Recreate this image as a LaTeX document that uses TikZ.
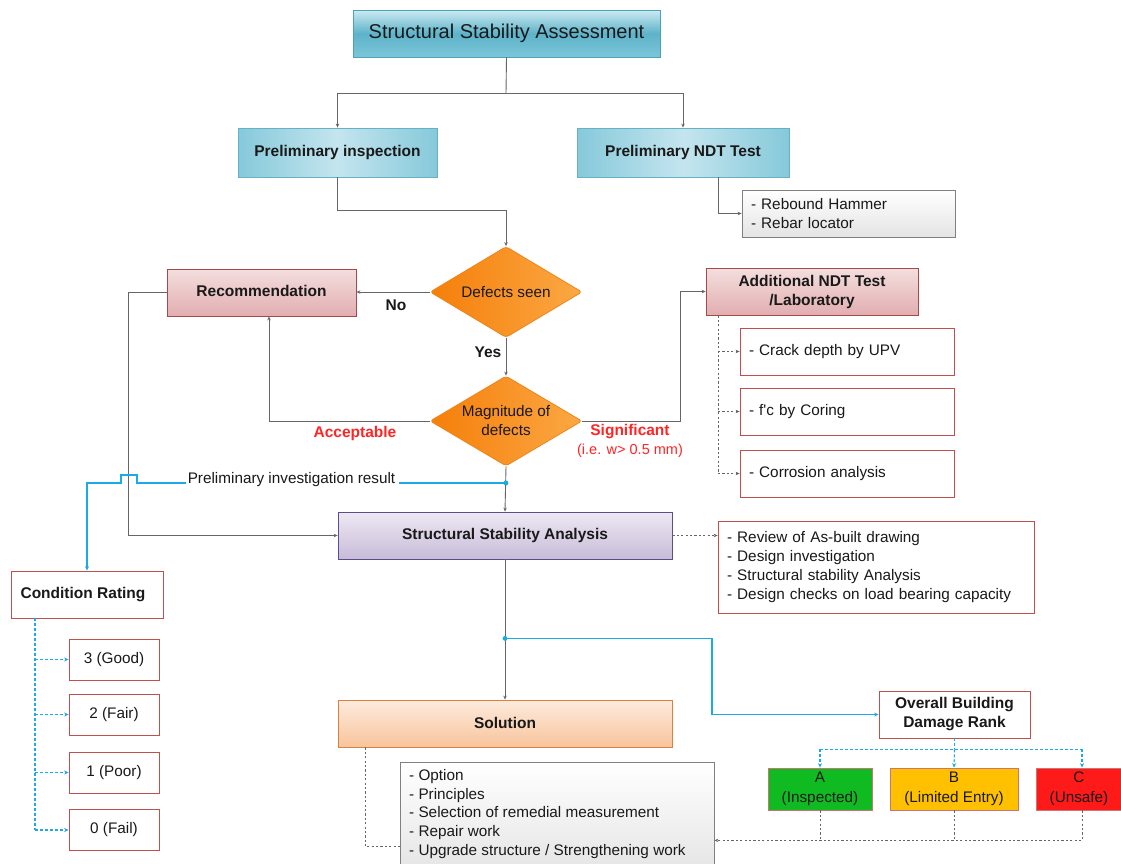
\documentclass[tikz,border=0pt]{standalone}
\usepackage{fontspec}
\setmainfont{Liberation Sans}
\newfontfamily\plainsans{Liberation Sans}
\usetikzlibrary{shapes.geometric,arrows.meta,calc}
\definecolor{lnGray}{HTML}{666666}
\definecolor{lnBlue}{HTML}{1AAAE6}
\definecolor{txRed}{HTML}{FF2525}
\definecolor{tealTop}{HTML}{CDEAF2}
\definecolor{tealMid}{HTML}{5DB3CA}
\definecolor{tealBot}{HTML}{7CC6D8}
\definecolor{tealBorder}{HTML}{4AA3BB}
\definecolor{pbEdge}{HTML}{86C9DA}
\definecolor{pbMid}{HTML}{C4E5EF}
\definecolor{pinkTop}{HTML}{F4DEDE}
\definecolor{pinkBot}{HTML}{E2AEB0}
\definecolor{pinkBorder}{HTML}{A34A4D}
\definecolor{lavTop}{HTML}{EEE8F3}
\definecolor{lavBot}{HTML}{C8BCD9}
\definecolor{lavBorder}{HTML}{5F4B8B}
\definecolor{peachTop}{HTML}{FDEBDD}
\definecolor{peachBot}{HTML}{F8C49C}
\definecolor{peachBorder}{HTML}{D7823F}
\definecolor{grayBot}{HTML}{E4E4E4}
\definecolor{grayBorder}{HTML}{808080}
\definecolor{redBorder}{HTML}{C0504D}
\definecolor{orgL}{HTML}{F57F0A}
\definecolor{orgR}{HTML}{FBA844}
\definecolor{orgBorder}{HTML}{EE8518}
\definecolor{rankA}{HTML}{10BB22}
\definecolor{rankB}{HTML}{FFC000}
\definecolor{rankC}{HTML}{FF1A1A}
\tikzset{
  base/.style={inner sep=0pt, align=center, text=black!90,
    font=\fontsize{15.3}{19}\selectfont},
  bx/.style={base, draw, line width=0.8pt},
  titlebox/.style={bx, draw=tealBorder, top color=tealTop, bottom color=tealBot, middle color=tealMid,
    font=\fontsize{20}{23}\selectfont},
  pbox/.style={bx, draw=tealBorder!85, left color=pbEdge, right color=pbEdge, middle color=pbMid,
    font=\fontsize{15.5}{19}\selectfont\bfseries},
  pinkbox/.style={bx, draw=pinkBorder, top color=pinkTop, bottom color=pinkBot,
    font=\fontsize{15.5}{19}\selectfont\bfseries},
  lavbox/.style={bx, draw=lavBorder, top color=lavTop, bottom color=lavBot,
    font=\fontsize{15.5}{19}\selectfont\bfseries},
  peachbox/.style={bx, draw=peachBorder, top color=peachTop, bottom color=peachBot,
    font=\fontsize{15.5}{19}\selectfont\bfseries},
  graybox/.style={bx, draw=grayBorder, top color=white, bottom color=grayBot},
  redbox/.style={bx, draw=redBorder, fill=white},
  rankbox/.style={bx, draw=redBorder!80, font=\fontsize{15.3}{20}\selectfont},
  dia/.style={diamond, draw=orgBorder, line width=0.8pt, left color=orgL, right color=orgR,
    inner sep=0pt, rounded corners=3pt},
  lbl/.style={base, font=\fontsize{15.5}{19}\selectfont\bfseries},
  redlbl/.style={base, text=txRed, font=\fontsize{15.5}{19}\selectfont\bfseries},
  ln/.style={draw=lnGray, line width=0.9pt},
  arr/.style={ln, -{Stealth[length=4pt,width=3.5pt]}},
  gdash/.style={draw=lnGray, line width=0.9pt, dash pattern=on 2.2pt off 2.2pt},
  gdarr/.style={gdash, -{Stealth[length=4pt,width=3.5pt]}},
  bln/.style={draw=lnBlue, line width=1.2pt},
  barr/.style={bln, -{Stealth[length=4.5pt,width=4pt]}},
  bdline/.style={draw=lnBlue, line width=1.1pt, dash pattern=on 3pt off 2pt},
  bdash/.style={bdline, -{Stealth[length=4.5pt,width=4pt]}},
}
\begin{document}
\begin{tikzpicture}[x=1pt,y=-1pt]
\useasboundingbox[fill=white] (0,0) rectangle (1121,863);

% nodes
\node[titlebox, minimum width=307, minimum height=47] (title) at (506.5,33.5) {Structural Stability Assessment};
\node[pbox, minimum width=199, minimum height=49] (pi) at (337.5,152.5) {Preliminary inspection};
\node[pbox, minimum width=212, minimum height=49] (pndt) at (683,152.5) {Preliminary NDT Test};
\node[graybox, minimum height=47, text width=195, inner xsep=9, align=left] (reb) at (848.5,213.5) {- Rebound Hammer\\- Rebar locator};

\node[dia, minimum width=152, minimum height=91] (d1) at (506,292) {};
\node[base] (d1t) at (d1.center) {Defects seen};
\node[pinkbox, minimum width=189, minimum height=47] (rec) at (261.5,292.5) {\raisebox{4pt}{Recommendation}};
\node[dia, minimum width=152, minimum height=90] (d2) at (506,421) {};
\node[base] (d2t) at (d2.center) {Magnitude of\\defects};

\node[pinkbox, minimum width=212, minimum height=47] (adnd) at (812,291.5) {Additional NDT Test\\/Laboratory};
\node[redbox, minimum height=47, text width=196, inner xsep=9, align=left] (cr1) at (847,351.5) {- Crack depth by UPV};
\node[redbox, minimum height=47, text width=196, inner xsep=9, align=left] (cr2) at (847,411.5) {- {\plainsans f'c} by Coring};
\node[redbox, minimum height=47, text width=196, inner xsep=9, align=left] (cr3) at (847,473.5) {- Corrosion analysis};

\node[lavbox, minimum width=334, minimum height=47] (ssa) at (505,535.5) {\raisebox{2pt}{Structural Stability Analysis}};
\node[redbox, minimum height=92, text width=298, inner xsep=9, align=left, font=\fontsize{15.3}{18.7}\selectfont] (rev) at (876,567) {- Review of As-built drawing\\- Design investigation\\- Structural stability Analysis\\- Design checks on load bearing capacity};

\node[redbox, minimum width=152, minimum height=47, font=\fontsize{15.5}{19}\selectfont\bfseries] (cond) at (87,594.5) {\hspace*{-8pt}\raisebox{2pt}{Condition Rating}};
\node[redbox, minimum width=90, minimum height=41] (r3) at (114,659.5) {3 (Good)};
\node[redbox, minimum width=90, minimum height=41] (r2) at (114,714.5) {2 (Fair)};
\node[redbox, minimum width=90, minimum height=41] (r1) at (114,772.5) {1 (Poor)};
\node[redbox, minimum width=90, minimum height=41] (r0) at (114,830) {0 (Fail)};

\node[peachbox, minimum width=334, minimum height=47] (sol) at (505,723.5) {\raisebox{2pt}{Solution}};
\node[graybox, minimum width=314, minimum height=113] (opt) at (557,818.5) {};
\node[base, anchor=west, align=left, font=\fontsize{15.3}{18.75}\selectfont] (optt) at (409,814) {- Option\\- Principles\\- Selection of remedial measurement\\- Repair work\\- Upgrade structure / Strengthening work};

\node[redbox, minimum width=151, minimum height=47, font=\fontsize{15.5}{19}\selectfont\bfseries] (obdr) at (954.5,714.5) {Overall Building\\Damage Rank};
\node[rankbox, fill=rankA, minimum width=104, minimum height=42] (ra) at (820,789) {A\\(Inspected)};
\node[rankbox, fill=rankB, minimum width=128, minimum height=42] (rb) at (954,789) {B\\(Limited Entry)};
\node[rankbox, fill=rankC, minimum width=86, minimum height=42] (rc) at (1079,789) {C\\(Unsafe)};

% labels
\node[lbl] (no) at (396,305) {No};
\node[lbl] (yes) at (488,352) {Yes};
\node[redlbl] (acc) at (355,433) {Acceptable};
\node[redlbl] (sig) at (630,432) {Significant};
\node[base, text=txRed, font=\fontsize{14.5}{18}\selectfont] (sig2) at (630,451) {(i.e. w> 0.5 mm)};
\node[base] (pir) at (291.5,480) {Preliminary investigation result};

% connectors
\coordinate (tj) at (506,93);
\draw[ln] (title.south) -- (tj);
\draw[arr] (tj) -| (pi.north);
\draw[arr] (tj) -| (pndt.north);
\draw[arr] ([xshift=35]pndt.south) |- (reb.west);
\draw[arr] (pi.south) -- ++(0,33) -| (d1.north);
\draw[arr] (d1.west) -- (d1.west -| rec.east);
\draw[arr] (d1.south) -- (d2.north);
\draw[arr] (d2.west) -| ([xshift=7.5]rec.south);
\draw[arr] (d2.east) -- ++(98,0) |- (adnd.west);
\coordinate (ad) at ([xshift=-94]adnd.south);
\draw[gdash] (ad) -- (ad |- cr3.west);
\draw[gdarr] (ad |- cr1.west) -- (cr1.west);
\draw[gdarr] (ad |- cr2.west) -- (cr2.west);
\draw[gdarr] (ad |- cr3.west) -- (cr3.west);
\draw[arr] (rec.west) -- ++(-38,0) |- (ssa.west);
\draw[arr] (d2.south) -- (ssa.north);
\draw[gdarr] (ssa.east) -- (ssa.east -| rev.west);
\draw[arr] (ssa.south) -- (sol.north);

% blue connectors
\coordinate (bd) at (506,483);
\coordinate (hopR) at (137,483);
\coordinate (hopL) at (121,483);
\fill[lnBlue] (bd) circle (2.4);
\draw[bln] (bd) -- ([xshift=4]pir.east |- bd);
\draw[barr] ([xshift=-2]pir.west |- bd) -- (hopR) -- ++(0,-8) -- ([yshift=8]hopL) -- (hopL) -| (cond.north);
\coordinate (bd2) at ($(ssa.south)+(0,79)$);
\fill[lnBlue] (bd2) circle (2.4);
\draw[barr] (bd2) -- ++(207,0) |- (obdr.west);
\coordinate (cd) at ([xshift=-52]cond.south);
\draw[bdline] (cd) -- (cd |- r0.west);
\draw[bdash] (cd |- r3.west) -- (r3.west);
\draw[bdash] (cd |- r2.west) -- (r2.west);
\draw[bdash] (cd |- r1.west) -- (r1.west);
\draw[bdash] (cd |- r0.west) -- (r0.west);
\coordinate (ob) at ([yshift=-11]obdr.south);
\draw[bdline] (obdr.south) -- (ob);
\draw[bdline] (ob -| ra.north) -- (ob -| rc.north) -- ++(3,0);
\draw[bdash] (ob -| ra.north) -- (ra.north);
\draw[bdash] (ob) -- (rb.north);
\draw[bdash] ([xshift=3]ob -| rc.north) -- ([xshift=3]rc.north);

% gray dashed to options
\draw[gdash] ([xshift=-140]sol.south) |- ([yshift=29]opt.south west);
\draw[gdash] (ra.south) -- ++(0,30);
\draw[gdash] (rb.south) -- ++(0,30);
\draw[gdarr] ([xshift=3]rc.south) |- ([yshift=35]opt.south east);
\end{tikzpicture}
\end{document}
